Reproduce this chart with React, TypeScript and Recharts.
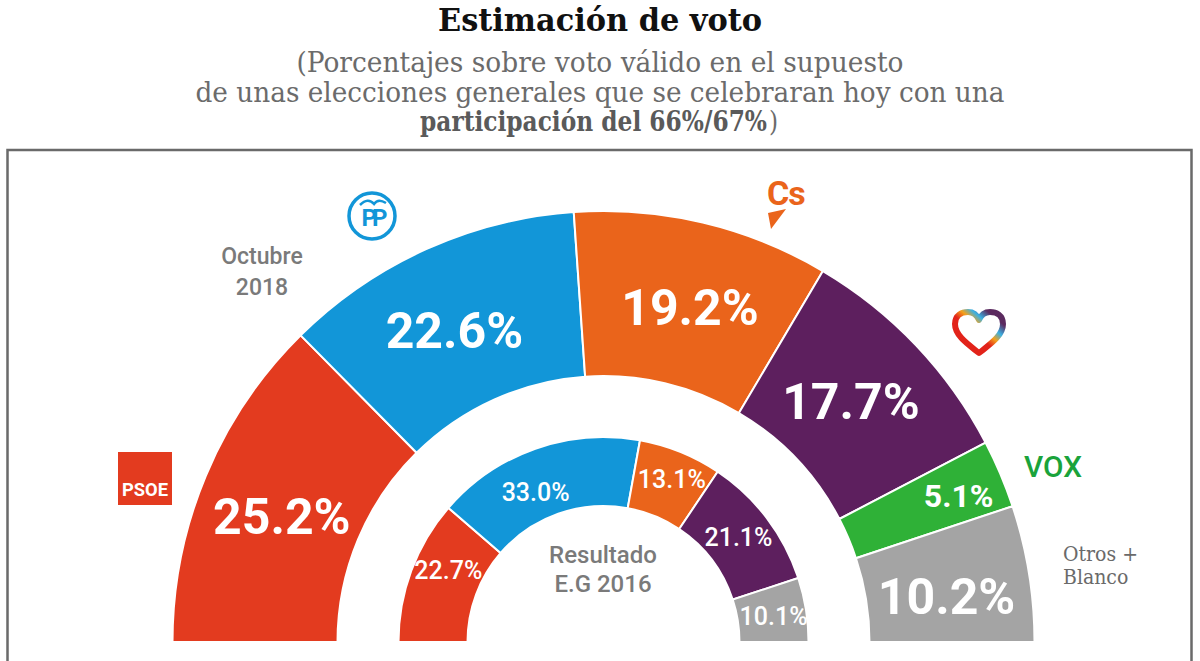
import React from 'react';
import { PieChart, Pie, Cell } from 'recharts';

// Estimación de voto, octubre 2018 (anillo exterior)
const parties = ['PSOE', 'PP', 'Cs', 'Podemos', 'VOX', 'Otros'];
const octubre2018 = [25.2, 22.6, 19.2, 17.7, 5.1, 10.2];

// Resultado elecciones generales 2016 (anillo interior)
const parties2016 = ['PSOE', 'PP', 'Cs', 'Podemos', 'Otros'];
const resultado2016 = [22.7, 33.0, 13.1, 21.1, 10.1];

const partyColors: Record<string, string> = {
  PSOE: '#e33b1f',
  PP: '#1296d8',
  Cs: '#ea641b',
  Podemos: '#5d1f5e',
  VOX: '#2fb137',
  Otros: '#a4a4a4',
};

const outerData = parties.map((name, i) => ({ name, value: octubre2018[i] }));
const innerData = parties2016.map((name, i) => ({ name, value: resultado2016[i] }));

const CX = 603.5;
const CY = 642;
const RADIAN = Math.PI / 180;

type Nudge = { da: number; r: number; size?: number };

// small hand nudges so the labels sit where the original put them
const outerNudge: Record<string, Nudge> = {
  PSOE: { da: 1.5, r: 345 },
  PP: { da: 1.3, r: 345 },
  Cs: { da: -1.2, r: 345 },
  Podemos: { da: 0.7, r: 345 },
  VOX: { da: -0.6, r: 384, size: 32 },
  Otros: { da: -1.7, r: 346 },
};
const innerNudge: Record<string, Nudge> = {
  PSOE: { da: -4.4, r: 171 },
  PP: { da: 5, r: 164 },
  Cs: { da: -0.8, r: 176 },
  Podemos: { da: 0.7, r: 171 },
  Otros: { da: -0.6, r: 172 },
};

const makeLabel = (nudge: Record<string, Nudge>, fontSize: number, weight: number) => (props: any) => {
  const { cx, cy, midAngle, value, name, payload } = props;
  const key = name ?? payload?.name;
  const n = nudge[key] ?? { da: 0, r: 300 };
  const a = (midAngle + n.da) * RADIAN;
  const x = cx + n.r * Math.cos(-a);
  const y = cy + n.r * Math.sin(-a);
  return (
    <text
      x={x}
      y={y}
      fill="#fff"
      textAnchor="middle"
      dominantBaseline="central"
      fontFamily="Roboto, 'Noto Sans', sans-serif"
      fontWeight={weight}
      fontSize={n.size ?? fontSize}
    >
      {`${value.toFixed(1)}%`}
    </text>
  );
};

const serif = "'DejaVu Serif Condensed', 'DejaVu Serif', serif";
const sans = "Roboto, 'Noto Sans', sans-serif";

function Overlay() {
  return (
    <svg
      width={1200}
      height={661}
      style={{ position: 'absolute', left: 0, top: 0, pointerEvents: 'none' }}
    >
      <defs>
        <linearGradient id="heartGrad" x1="0" y1="1" x2="1" y2="0">
          <stop offset="0%" stopColor="#e2231a" />
          <stop offset="45%" stopColor="#e2231a" />
          <stop offset="58%" stopColor="#f4a21b" />
          <stop offset="70%" stopColor="#3bb1e3" />
          <stop offset="85%" stopColor="#5b2a5f" />
        </linearGradient>
      </defs>

      {/* title block */}
      <text x={600} y={31} textAnchor="middle" fontFamily={serif} fontWeight="bold" fontSize={31}
        fill="#111" textLength={324} lengthAdjust="spacingAndGlyphs">
        Estimación de voto
      </text>
      <text x={600} y={72} fontFamily={serif} fontSize={27} fill="#6b6b6b" textAnchor="middle"
        textLength={607} lengthAdjust="spacingAndGlyphs">
        (Porcentajes sobre voto válido en el supuesto
      </text>
      <text x={600} y={102} fontFamily={serif} fontSize={27} fill="#6b6b6b" textAnchor="middle"
        textLength={809} lengthAdjust="spacingAndGlyphs">
        de unas elecciones generales que se celebraran hoy con una
      </text>
      <text x={599} y={131} textAnchor="middle" fontFamily={serif} fontSize={27} fill="#6b6b6b"
        textLength={358} lengthAdjust="spacingAndGlyphs">
        <tspan fontWeight="bold" fill="#5a5a5a">participación del 66%/67%</tspan>
        <tspan dx={2}>)</tspan>
      </text>

      {/* frame */}
      <path d="M7.5,661 L7.5,150 L1191.5,150 L1191.5,661" fill="none" stroke="#6a6a6a" strokeWidth={2.5} />

      {/* ring captions */}
      <text x={262} y={264} textAnchor="middle" fontFamily={sans} fontWeight={500} fontSize={23} fill="#7a7a7a">Octubre</text>
      <text x={262} y={295} textAnchor="middle" fontFamily={sans} fontWeight={500} fontSize={23} fill="#7a7a7a">2018</text>
      <text x={603} y={563} textAnchor="middle" fontFamily={sans} fontWeight={500} fontSize={24} fill="#7a7a7a">Resultado</text>
      <text x={603} y={592} textAnchor="middle" fontFamily={sans} fontWeight={500} fontSize={24} fill="#7a7a7a">E.G 2016</text>
      <text x={1063} y={561} fontFamily={serif} fontSize={21} fill="#6a6a6a">Otros +</text>
      <text x={1063} y={584} fontFamily={serif} fontSize={21} fill="#6a6a6a">Blanco</text>

      {/* PSOE logo */}
      <rect x={118} y={452} width={54} height={53} fill={partyColors.PSOE} />
      <text x={145} y={496} textAnchor="middle" fontFamily={sans} fontWeight="bold" fontSize={19}
        fill="#fff" textLength={46} lengthAdjust="spacingAndGlyphs">PSOE</text>

      {/* PP logo */}
      <circle cx={372} cy={216} r={23} fill="none" stroke={partyColors.PP} strokeWidth={3.5} />
      <text x={372} y={226} textAnchor="middle" fontFamily={sans} fontWeight="bold" fontSize={24}
        fill={partyColors.PP} letterSpacing={-5}>PP</text>
      <path d="M360,205 Q368,197 374,204 Q378,198 386,203" fill="none" stroke={partyColors.PP} strokeWidth={2.5} />

      {/* Cs logo */}
      <text x={767} y={205} fontFamily={sans} fontWeight="bold" fontSize={34} fill={partyColors.Cs}
        letterSpacing={-1}>Cs</text>
      <path d="M768,213 L786,209 L771,229 Z" fill={partyColors.Cs} />

      {/* Podemos heart */}
      <path
        d="M979,353 C969,345 955,336 955,324 C955,315 962,312 968,312 C973,312 977,315 979,320 C981,315 985,312 990,312 C996,312 1003,315 1003,324 C1003,336 989,345 979,353 Z"
        fill="none" stroke="url(#heartGrad)" strokeWidth={6} strokeLinejoin="round"
      />

      {/* VOX logo */}
      <text x={1024} y={477} fontFamily={sans} fontWeight={500} fontSize={29} fill="#1aa33b"
        textLength={58} lengthAdjust="spacingAndGlyphs">VOX</text>
    </svg>
  );
}

export default function App() {
  return (
    <div style={{ position: 'absolute', left: 0, top: 0, width: 1200, height: 661, background: '#fff' }}>
      <PieChart width={1200} height={661} margin={{ top: 0, right: 0, bottom: 0, left: 0 }}>
        <Pie
          data={outerData}
          dataKey="value"
          nameKey="name"
          cx={CX}
          cy={CY}
          startAngle={180}
          endAngle={0}
          innerRadius={266}
          outerRadius={431}
          stroke="#fff"
          strokeWidth={2}
          labelLine={false}
          label={makeLabel(outerNudge, 50, 700)}
          isAnimationActive={false}
        >
          {outerData.map((d) => (
            <Cell key={d.name} fill={partyColors[d.name]} />
          ))}
        </Pie>
        <Pie
          data={innerData}
          dataKey="value"
          nameKey="name"
          cx={CX}
          cy={CY}
          startAngle={180}
          endAngle={0}
          innerRadius={136}
          outerRadius={205}
          stroke="#fff"
          strokeWidth={2}
          labelLine={false}
          label={makeLabel(innerNudge, 25, 500)}
          isAnimationActive={false}
        >
          {innerData.map((d) => (
            <Cell key={d.name} fill={partyColors[d.name]} />
          ))}
        </Pie>
      </PieChart>
      <Overlay />
    </div>
  );
}
